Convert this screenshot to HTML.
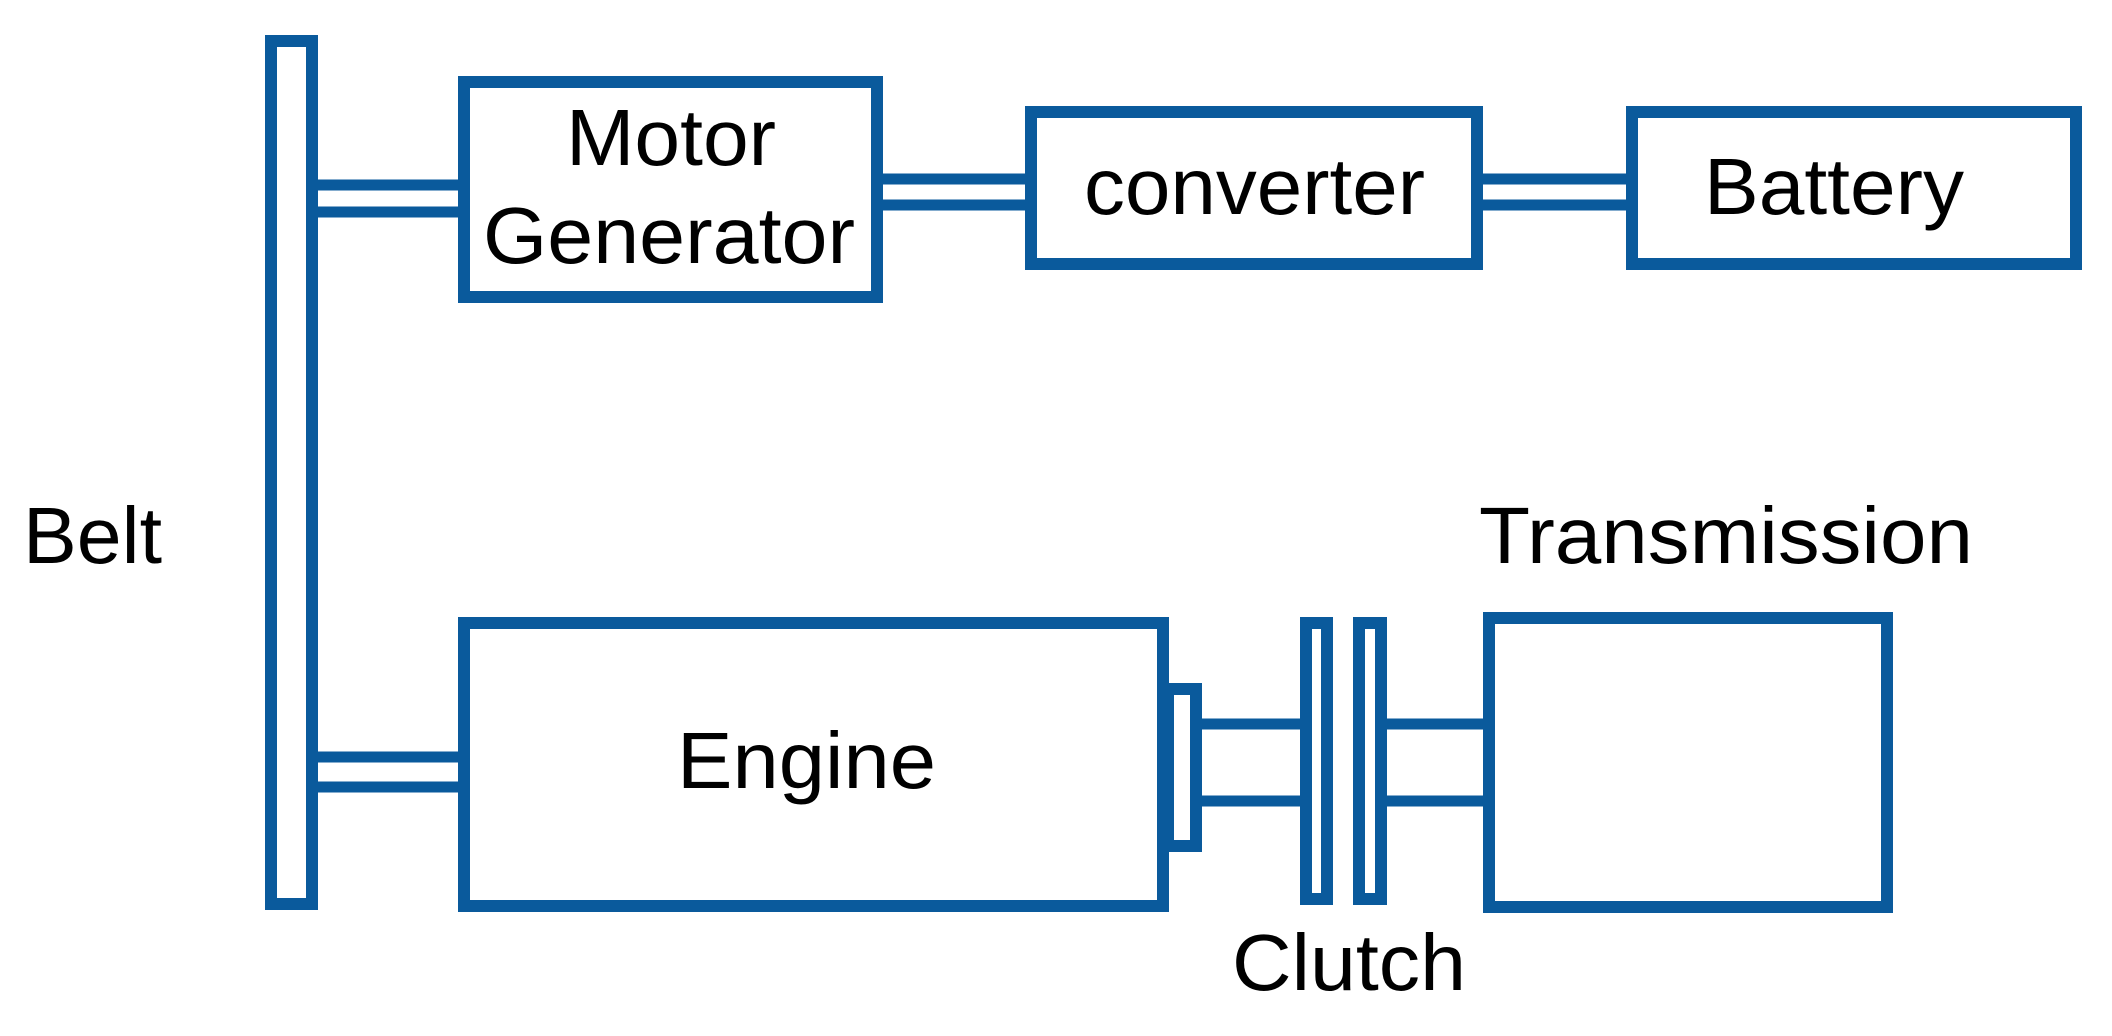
<!DOCTYPE html>
<html><head><meta charset="utf-8"><style>
html,body{margin:0;padding:0;background:#fff;}
svg{display:block;}
text{font-family:"Liberation Sans",Arial,sans-serif;fill:#000;}
</style></head><body>
<svg width="2112" height="1036" viewBox="0 0 2112 1036" xmlns="http://www.w3.org/2000/svg">
<g fill="none" stroke="#0a5a9c" stroke-width="12">
<!-- belt -->
<rect x="271" y="41" width="41" height="863"/>
<!-- MG -->
<rect x="464" y="82" width="413" height="215"/>
<!-- converter -->
<rect x="1031" y="112" width="446" height="152"/>
<!-- battery -->
<rect x="1632" y="112" width="444" height="152"/>
<!-- engine -->
<rect x="464" y="623" width="699" height="283"/>
<!-- stub -->
<rect x="1168" y="689" width="28" height="157"/>
<!-- clutch plates -->
<rect x="1306" y="623" width="21" height="276"/>
<rect x="1359" y="623" width="22" height="276"/>
<!-- transmission -->
<rect x="1489" y="618" width="398" height="289"/>
</g>
<g stroke="#0a5a9c" stroke-width="11">
<!-- belt - MG -->
<line x1="312" y1="185" x2="464" y2="185"/>
<line x1="312" y1="212" x2="464" y2="212"/>
<!-- MG - converter -->
<line x1="877" y1="179" x2="1031" y2="179"/>
<line x1="877" y1="205" x2="1031" y2="205"/>
<!-- converter - battery -->
<line x1="1477" y1="179" x2="1632" y2="179"/>
<line x1="1477" y1="205" x2="1632" y2="205"/>
<!-- belt - engine -->
<line x1="312" y1="757" x2="464" y2="757"/>
<line x1="312" y1="787" x2="464" y2="787"/>
<!-- shafts -->
<line x1="1196" y1="724" x2="1306" y2="724"/>
<line x1="1196" y1="801" x2="1306" y2="801"/>
<line x1="1381" y1="724" x2="1489" y2="724"/>
<line x1="1381" y1="801" x2="1489" y2="801"/>
</g>
<g font-size="80">
<text x="566" y="165" textLength="210" lengthAdjust="spacingAndGlyphs">Motor</text>
<text x="483" y="263" textLength="372" lengthAdjust="spacingAndGlyphs">Generator</text>
<text x="1084" y="214" textLength="341" lengthAdjust="spacingAndGlyphs">converter</text>
<text x="1704" y="214" textLength="260" lengthAdjust="spacingAndGlyphs">Battery</text>
<text x="23" y="563" textLength="139" lengthAdjust="spacingAndGlyphs">Belt</text>
<text x="1479" y="563" textLength="494" lengthAdjust="spacingAndGlyphs">Transmission</text>
<text x="677" y="788" textLength="259" lengthAdjust="spacingAndGlyphs">Engine</text>
<text x="1232" y="990" textLength="234" lengthAdjust="spacingAndGlyphs">Clutch</text>
</g>
</svg>
</body></html>
